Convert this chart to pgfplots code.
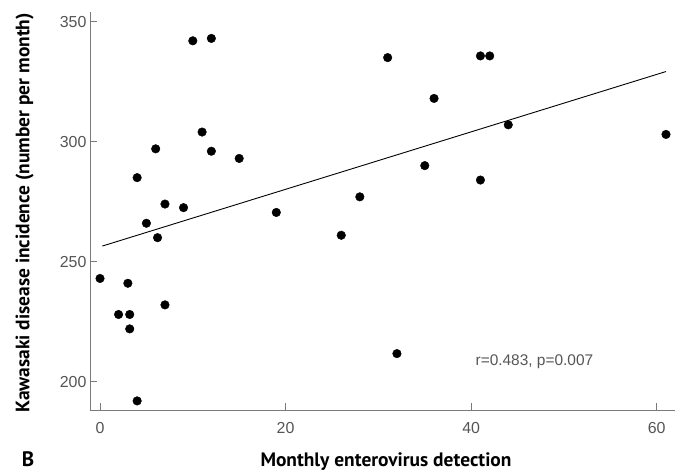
\documentclass[border=0pt]{standalone}
\usepackage{pgfplots}
\pgfplotsset{compat=1.18}
\usepackage{fontspec}
\setmainfont{PT Sans}
\newfontfamily\tickfont{Liberation Sans}
\definecolor{axisgray}{HTML}{7A7A7A}
\definecolor{labgray}{HTML}{555555}

\begin{document}
\begin{tikzpicture}
\path[use as bounding box] (-90bp,-62.5bp) rectangle (591bp,410.5bp);
\begin{axis}[
  at={(0,0)}, anchor=south west,
  scale only axis, width=585bp, height=398.5bp,
  xmin=-1.08, xmax=61.97, ymin=188, ymax=354,
  axis x line*=bottom, axis y line*=left,
  axis line style={axisgray, line width=0.8pt},
  xtick={0,20,40,60}, ytick={200,250,300,350},
  tick align=inside, major tick length=7bp,
  tick style={axisgray, line width=0.8pt},
  ticklabel style={font=\tickfont\fontsize{16}{16}\selectfont, text=labgray},
  xticklabel style={yshift=-8bp},
  /pgf/number format/assume math mode=true,
  xlabel={Monthly enterovirus detection},
  ylabel={Kawasaki disease incidence (number per month)},
  label style={font=\bfseries\fontsize{19.5}{19.5}\selectfont},
  xlabel style={at={(axis description cs:0.506,-0.129)}, anchor=center},
  ylabel style={at={(axis description cs:-0.112,0.496)}, anchor=center},
  clip=false,
]
% monthly observations
\addplot[only marks, mark=*, mark size=4.3bp, mark options={fill=black, draw=black}] coordinates {
  (10,342) (12,343) (11,304) (6,297) (12,296) (15,293) (4,285)
  (7,274) (9,272.5) (19,270.5) (5,266) (6.2,260) (0,243) (3,241)
  (2,228) (3.2,228) (7,232) (3.2,222) (4,192)
  (31,335) (41,335.7) (42,335.7) (36,318) (44,307) (61,303)
  (35,290) (41,284) (28,277) (26,261) (32,211.7)
};
% regression line
\addplot[black, line width=0.9pt] coordinates {(0.25,256.5) (61,329.2)};
\node[anchor=west, font=\tickfont\fontsize{15.5}{15.5}\selectfont, text=labgray]
  at (axis cs:40.1,208.5) {r=0.483, p=0.007};
\node[font=\bfseries\fontsize{21}{21}\selectfont] at (axis description cs:-0.106,-0.122) {B};
\end{axis}
\end{tikzpicture}
\end{document}
